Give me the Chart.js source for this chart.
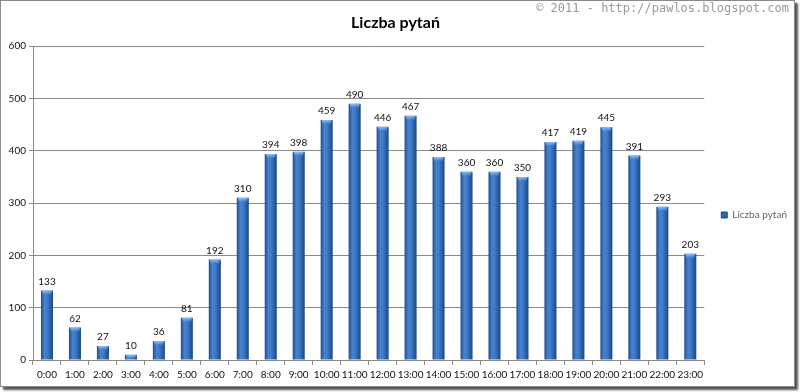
<!DOCTYPE html>
<html>
<head>
<meta charset="utf-8">
<script src="https://cdn.jsdelivr.net/npm/chart.js@4/dist/chart.umd.min.js"></script>
<style>
  html, body { margin: 0; padding: 0; background: #fff; }
  #frame {
    position: absolute; left: 0; top: 0;
    width: 795px; height: 387px; box-sizing: border-box;
    border: 1px solid #8a8a8a;
    box-shadow: 3px 3px 2px #555;
    background: #fff;
  }
  #wm {
    position: absolute; right: 5px; top: 0px;
    font: 12px "DejaVu Sans Mono", monospace; color: #9a9a9a;
    white-space: pre;
  }
</style>
</head>
<body>
<div id="frame">
  <canvas id="chart" width="793" height="385"></canvas>
  <div id="wm">© 2011 - http://pawlos.blogspot.com</div>
</div>
<script>
// dane
const godziny = ["0:00","1:00","2:00","3:00","4:00","5:00","6:00","7:00","8:00","9:00","10:00","11:00",
  "12:00","13:00","14:00","15:00","16:00","17:00","18:00","19:00","20:00","21:00","22:00","23:00"];
const liczbaPytan = [133, 62, 27, 10, 36, 81, 192, 310, 394, 398, 459, 490,
  446, 467, 388, 360, 360, 350, 417, 419, 445, 391, 293, 203];
const osY = [0, 100, 200, 300, 400, 500, 600];

const fontLbl = "Lato, 'Open Sans', sans-serif";

// gradient poziomy dla kazdego slupka
function kolorSlupka(ctx) {
  const chart = ctx.chart;
  const x = chart.scales.x;
  if (!x || ctx.dataIndex === undefined) return '#3a74c0';
  const cx = x.getPixelForValue(ctx.dataIndex);
  const w = x.width / godziny.length * 0.43;
  const g = chart.ctx.createLinearGradient(cx - w / 2, 0, cx + w / 2, 0);
  g.addColorStop(0, '#1f4c8a');
  g.addColorStop(0.3, '#4683d0');
  g.addColorStop(0.55, '#3c7ac8');
  g.addColorStop(1, '#1d4680');
  return g;
}

// jasny "daszek" na gorze slupka + etykiety nad slupkami
const etykiety = {
  id: 'etykiety',
  afterDatasetsDraw(chart) {
    const c = chart.ctx;
    const meta = chart.getDatasetMeta(0);
    c.save();
    meta.data.forEach(bar => {
      const w = bar.width, h = Math.min(5, bar.base - bar.y);
      const g = c.createLinearGradient(0, bar.y, 0, bar.y + h);
      g.addColorStop(0, 'rgba(150,195,245,0.95)');
      g.addColorStop(1, 'rgba(110,165,230,0)');
      c.fillStyle = g;
      c.beginPath();
      c.moveTo(bar.x - w / 2 + 1, bar.y);
      c.lineTo(bar.x + w / 2 - 1, bar.y);
      c.lineTo(bar.x + w / 2 - 2, bar.y + h);
      c.lineTo(bar.x, bar.y + h * 0.6);
      c.lineTo(bar.x - w / 2 + 2, bar.y + h);
      c.closePath();
      c.fill();
    });
    c.font = '10px ' + fontLbl;
    c.fillStyle = '#111';
    c.textAlign = 'center';
    c.textBaseline = 'bottom';
    meta.data.forEach((bar, i) => {
      c.fillText(liczbaPytan[i], bar.x, bar.y - 4);
    });
    c.restore();
  }
};

// legenda troche dalej od wykresu
const legendaPrzesun = {
  id: 'legendaPrzesun',
  afterInit(chart) {
    const l = chart.legend;
    const fit = l.fit.bind(l);
    l.fit = function () { fit(); this.width -= 7; };
  }
};

new Chart(document.getElementById('chart'), {
  type: 'bar',
  data: {
    labels: godziny,
    datasets: [{
      label: 'Liczba pytań',
      data: liczbaPytan,
      backgroundColor: kolorSlupka,
      borderWidth: 0,
      barPercentage: 0.43,
      categoryPercentage: 1
    }]
  },
  options: {
    responsive: false,
    animation: false,
    layout: { padding: { left: 0, right: 4, top: 0, bottom: 1 } },
    plugins: {
      title: {
        display: true,
        text: 'Liczba pytań',
        color: '#000',
        font: { family: fontLbl, size: 16, weight: 'bold' },
        padding: { top: 12, bottom: 14 }
      },
      legend: {
        position: 'right',
        title: { display: true, text: ' ', font: { size: 10 }, padding: { top: 32, bottom: 0 } },
        labels: {
          boxWidth: 6, boxHeight: 6,
          color: '#111',
          font: { family: fontLbl, size: 10 },
          padding: 17,
          generateLabels: () => [{ text: 'Liczba pytań', fillStyle: '#2e64ad', strokeStyle: '#1f4c8a', lineWidth: 1, datasetIndex: 0 }]
        }
      },
      tooltip: { enabled: false }
    },
    scales: {
      x: {
        grid: { display: true, offset: true, drawOnChartArea: false, drawTicks: true, tickLength: 5, color: '#8a8a8a' },
        border: { color: '#8a8a8a' },
        ticks: { color: '#111', font: { family: fontLbl, size: 10 }, padding: 4, maxRotation: 0, autoSkip: false }
      },
      y: {
        min: 0, max: 600,
        afterBuildTicks: s => { s.ticks = osY.map(v => ({ value: v })); },
        afterFit: s => { s.width = 32; },
        grid: { color: '#8a8a8a', tickLength: 4 },
        border: { color: '#8a8a8a' },
        ticks: { color: '#111', font: { family: fontLbl, size: 10 }, padding: 3 }
      }
    }
  },
  plugins: [etykiety, legendaPrzesun]
});
</script>
</body>
</html>
